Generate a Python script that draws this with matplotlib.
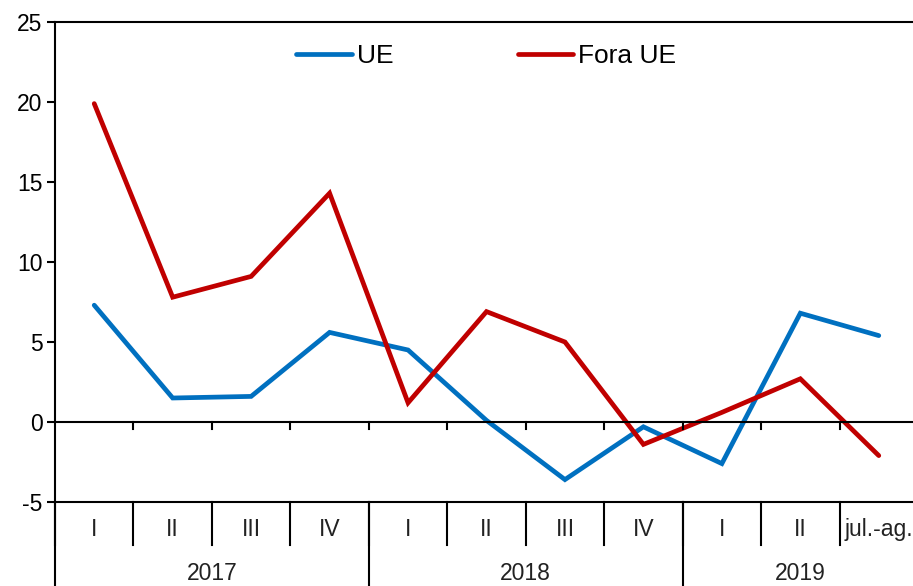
import numpy as np
import matplotlib
matplotlib.use('Agg')
import matplotlib.pyplot as plt
import matplotlib.transforms as mtransforms

plt.rcParams['font.family'] = ['Liberation Sans', 'DejaVu Sans']
plt.rcParams['axes.unicode_minus'] = False

# data
quarters = ['I', 'II', 'III', 'IV', 'I', 'II', 'III', 'IV', 'I', 'II', 'jul.-ag.']
years = ['2017', '2018', '2019']
year_spans = [(0, 4), (4, 8), (8, 11)]
ue = [7.3, 1.5, 1.6, 5.6, 4.5, 0.1, -3.6, -0.3, -2.6, 6.8, 5.4]
fora_ue = [19.9, 7.8, 9.1, 14.3, 1.2, 6.9, 5.0, -1.4, 0.6, 2.7, -2.1]

fig = plt.figure(figsize=(9.13, 5.86), dpi=100)
ax = fig.add_axes([55/913, 84/586, 863/913, 480/586])

x = np.arange(len(quarters))
ax.plot(x, ue, color='#0070C0', lw=3.4, label='UE', solid_capstyle='round', solid_joinstyle='miter')
ax.plot(x, fora_ue, color='#C00000', lw=3.4, label='Fora UE', solid_capstyle='round', solid_joinstyle='miter')

ax.set_xlim(-0.5, len(quarters) - 0.5)
ax.set_ylim(-5, 25)
ax.set_yticks(range(-5, 26, 5))
ax.set_xticks([])
ax.tick_params(axis='y', direction='out', length=6, width=1.5, labelsize=16.5, pad=3)

for s in ['left', 'top', 'bottom']:
    ax.spines[s].set_linewidth(1.5)
ax.spines['right'].set_visible(False)

# zero line with small ticks at category boundaries
ax.axhline(0, color='black', lw=1.5)
for b in range(1, len(quarters)):
    ax.plot([b - 0.5, b - 0.5], [0, -0.45], color='black', lw=1.5)

# category axis below the plot
trans = mtransforms.blended_transform_factory(ax.transData, ax.transAxes)
for i, q in enumerate(quarters):
    ax.text(i, -0.058, q, transform=trans, ha='center', va='center', fontsize=16.5, color='#222222')
for b in range(0, len(quarters) + 1):
    ax.plot([b - 0.5, b - 0.5], [0, -0.09], transform=trans, color='black', lw=1.5, clip_on=False)
for (a, e), yr in zip(year_spans, years):
    ax.plot([a - 0.5, a - 0.5], [0, -0.2], transform=trans, color='black', lw=1.5, clip_on=False)
    ax.text((a + e - 1) / 2, -0.148, yr, transform=trans, ha='center', va='center', fontsize=16.5, color='#222222')

ax.legend(loc='upper center', bbox_to_anchor=(0.5, 1.003), ncol=2, frameon=False, fontsize=19,
          handlelength=2.1, handletextpad=0.2, columnspacing=4.7)

fig.savefig('out.png', dpi=100)
